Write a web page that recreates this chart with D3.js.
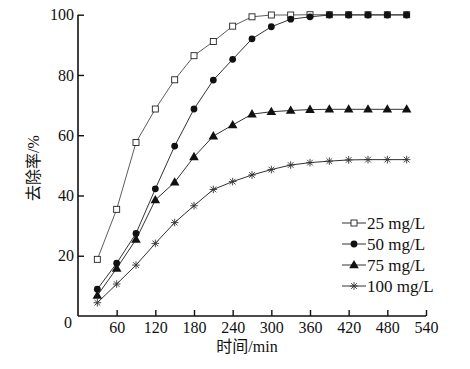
<!DOCTYPE html>
<html><head><meta charset="utf-8">
<script src="https://cdn.jsdelivr.net/npm/d3@7"></script>
<style>
html,body{margin:0;padding:0;background:#fff;}
text{font-family:"Liberation Serif","Noto Sans CJK SC",serif;fill:#111;}
</style></head>
<body>
<svg id="chart" width="470" height="369"></svg>
<script>
const times = [30,60,90,120,150,180,210,240,270,300,330,360,390,420,450,480,510];
const seriesNames = ["25 mg/L","50 mg/L","75 mg/L","100 mg/L"];
const s25  = [18.8,35.4,57.6,68.7,78.4,86.4,91.1,96.2,99.3,99.9,99.9,100,100,100,100,100,100];
const s50  = [8.9,17.5,27.4,42.2,56.4,68.7,78.3,85.2,92.0,96.0,98.5,99.3,99.9,99.9,99.9,99.9,99.9];
const s75  = [6.8,15.8,25.4,38.5,44.4,52.8,59.7,63.4,67.0,67.8,68.2,68.5,68.6,68.6,68.6,68.6,68.6];
const s100 = [4.4,10.6,16.9,24.1,31.0,36.6,42.0,44.6,46.8,48.6,50.1,50.9,51.4,51.8,51.9,51.9,51.9];
const xTicks = [60,120,180,240,300,360,420,480,540];
const yTicks = [0,20,40,60,80,100];
const xTitle = "时间/min";
const yTitle = "去除率/%";

const svg = d3.select("#chart");
const x = d3.scaleLinear().domain([0,540]).range([78,426]);
const y = d3.scaleLinear().domain([0,100]).range([316,14.7]);

// axes
const xAxis = svg.append("g").attr("transform","translate(0,316)")
  .call(d3.axisBottom(x).tickValues(xTicks).tickSizeInner(-6).tickSizeOuter(0).tickPadding(6));
const yAxis = svg.append("g").attr("transform","translate(78,0)")
  .call(d3.axisLeft(y).tickValues(yTicks.filter(d=>d>0)).tickSizeInner(-6).tickSizeOuter(0).tickPadding(4));
[xAxis,yAxis].forEach(g=>{
  g.select(".domain").attr("stroke","#111").attr("stroke-width",1.6);
  g.selectAll(".tick line").attr("stroke","#111").attr("stroke-width",1.4);
  g.selectAll("text").attr("font-size",16).attr("fill","#111")
    .style("font-family",'"Liberation Serif",serif');
});
xAxis.select(".domain").attr("d",`M${x(0)},0H${x(540)}`);
yAxis.select(".domain").attr("d",`M0,${y(0)}V${y(100)}`);
// zero label
svg.append("text").attr("x",68).attr("y",328).attr("text-anchor","middle")
  .attr("font-size",16).style("font-family",'"Liberation Serif",serif').text(yTicks[0]);

// titles
svg.append("text").attr("x",247).attr("y",352).attr("text-anchor","middle")
  .attr("font-size",16).text(xTitle);
svg.append("text").attr("transform","translate(39,168) rotate(-90)")
  .attr("text-anchor","middle").attr("font-size",16).text(yTitle);

const data = [s25,s50,s75,s100];
const line = d3.line().x((d,i)=>x(times[i])).y(d=>y(d));

function drawMarker(g, type, cx, cy){
  if(type===0){
    g.append("rect").attr("x",cx-3).attr("y",cy-3).attr("width",6).attr("height",6)
      .attr("fill","#fff").attr("stroke","#222").attr("stroke-width",0.9);
  } else if(type===1){
    g.append("circle").attr("cx",cx).attr("cy",cy).attr("r",3.4).attr("fill","#111");
  } else if(type===2){
    g.append("path").attr("d",d3.symbol(d3.symbolTriangle,40)()).attr("transform",`translate(${cx},${cy+0.5})`)
      .attr("fill","#111");
  } else {
    const r=3.8;
    const p = `M${cx-r},${cy}H${cx+r}M${cx},${cy-r}V${cy+r}M${cx-r*0.75},${cy-r*0.75}L${cx+r*0.75},${cy+r*0.75}M${cx-r*0.75},${cy+r*0.75}L${cx+r*0.75},${cy-r*0.75}`;
    g.append("path").attr("d",p).attr("stroke","#333").attr("stroke-width",0.9).attr("fill","none");
  }
}

// draw in order: 100, 75, 25, 50 so circles cover squares at top
const order = [3,2,0,1];
order.forEach(k=>{
  const g = svg.append("g");
  g.append("path").datum(data[k]).attr("d",line).attr("fill","none")
    .attr("stroke","#333").attr("stroke-width",k===0?0.8:1);
  data[k].forEach((v,i)=>drawMarker(g,k,x(times[i]),y(v)));
});

// legend
const legY = [223,244,265,286];
seriesNames.forEach((name,k)=>{
  const g = svg.append("g");
  g.append("line").attr("x1",342).attr("x2",366).attr("y1",legY[k]).attr("y2",legY[k])
    .attr("stroke","#333").attr("stroke-width",1);
  drawMarker(g,k,354,legY[k]);
  g.append("text").attr("x",367).attr("y",legY[k]+6).attr("font-size",17).text(name);
});
</script>
</body></html>
